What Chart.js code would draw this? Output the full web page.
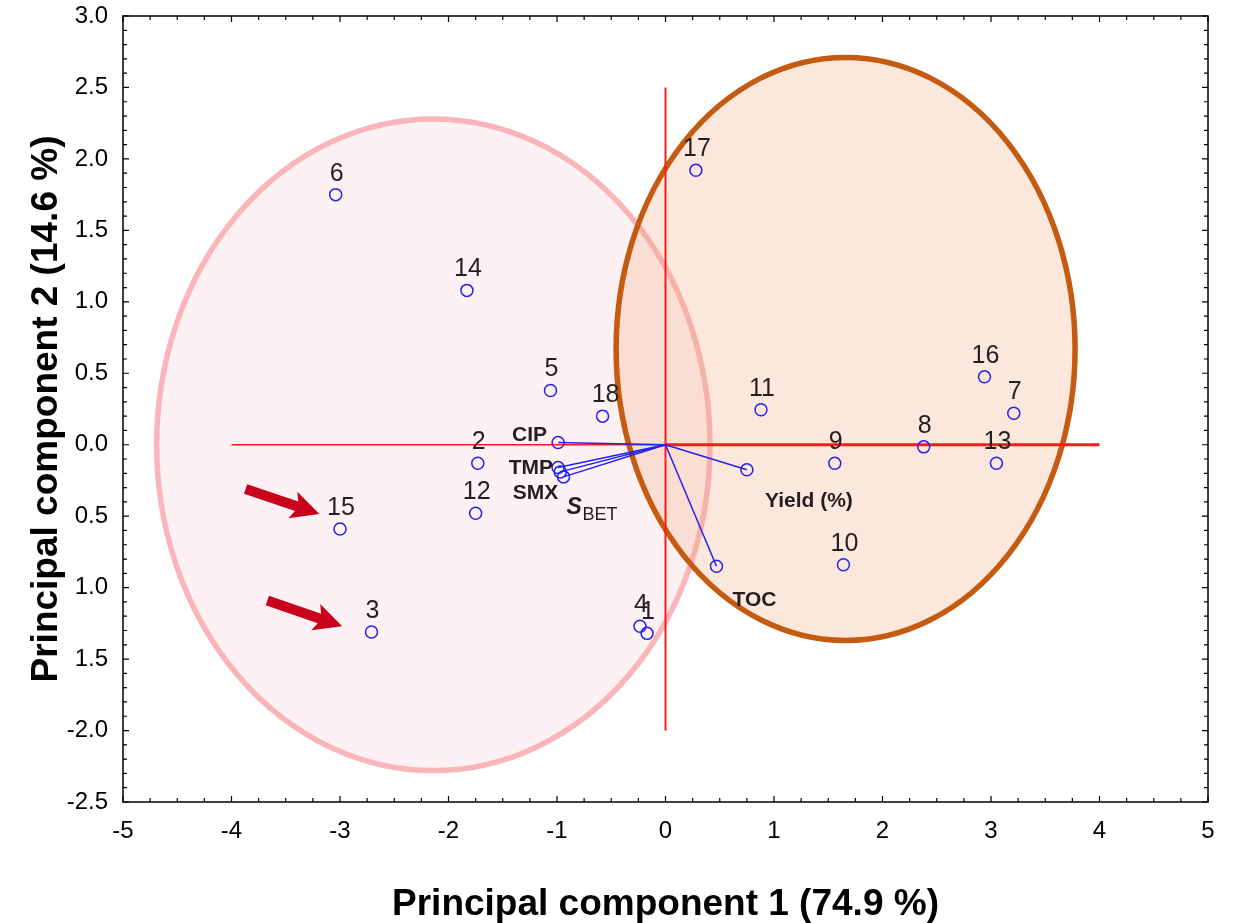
<!DOCTYPE html>
<html>
<head>
<meta charset="utf-8">
<script src="https://cdn.jsdelivr.net/npm/chart.js@4.4.1/dist/chart.umd.min.js"></script>
<style>
  html, body { margin: 0; padding: 0; background: #fff; }
</style>
</head>
<body>
<canvas id="pcaChart" width="1235" height="923"></canvas>
<script>
// sample scores (sample number -> PC1, PC2)
const sampleLabels = ["1", "2", "3", "4", "5", "6", "7", "8", "9", "10", "11", "12", "13", "14", "15", "16", "17", "18"];
const samplePC1 = [-0.17, -1.73, -2.71, -0.235, -1.06, -3.04, 3.21, 2.38, 1.56, 1.64, 0.88, -1.75, 3.05, -1.83, -3.0, 2.94, 0.28, -0.58];
const samplePC2 = [-1.32, -0.13, -1.31, -1.27, 0.38, 1.75, 0.22, -0.015, -0.13, -0.84, 0.245, -0.48, -0.13, 1.08, -0.59, 0.475, 1.92, 0.20];

// variable loadings
const varNames = ["CIP", "TMP", "SMX", "SBET", "Yield (%)", "TOC"];
const varPC1 = [-0.99, -0.99, -0.97, -0.94, 0.75, 0.47];
const varPC2 = [0.015, -0.16, -0.19, -0.225, -0.175, -0.85];

// group ellipses: centre and semi axes, in PC units
const groupCenterX = [-2.14, 1.66];
const groupCenterY = [0.0, 0.67];
const groupRadiusX = [2.55, 2.115];
const groupRadiusY = [2.28, 2.04];

// axis ticks
const xTickValues = [-5, -4, -3, -2, -1, 0, 1, 2, 3, 4, 5];
const xTickLabels = ["-5", "-4", "-3", "-2", "-1", "0", "1", "2", "3", "4", "5"];
const yTickValues = [3, 2.5, 2, 1.5, 1, 0.5, 0, -0.5, -1, -1.5, -2, -2.5];
const yTickLabels = ["3.0", "2.5", "2.0", "1.5", "1.0", "0.5", "0.0", "0.5", "1.0", "1.5", "-2.0", "-2.5"];

// red reference axes through the origin
const refLeft = [-4, 0];
const refRight = [0, 4];
const refVertical = [2.5, -2.0];

const FONT = "'Liberation Sans', Arial, sans-serif";
const BLUE = "rgb(35,35,235)";
const TEXT = "#231f20";

const scorePoints = samplePC1.map((v, i) => ({ x: v, y: samplePC2[i] }));

const loadingSets = varNames.map((name, i) => ({
    type: "line",
    label: name,
    data: [{ x: 0, y: 0 }, { x: varPC1[i], y: varPC2[i] }],
    borderColor: BLUE,
    borderWidth: 1.5,
    pointRadius: [0, 6],
    pointBorderWidth: 1.5,
    pointBorderColor: BLUE,
    pointBackgroundColor: "rgba(0,0,0,0)",
    order: 2
}));

const ellipsePlugin = {
    id: "groupEllipses",
    beforeDatasetsDraw(chart) {
        const { ctx, scales: { x, y } } = chart;
        const fills = ["rgba(248,190,200,0.22)", "rgba(240,170,130,0.28)"];
        const strokes = ["#f9b5ba", "#c55a11"];
        ctx.save();
        groupCenterX.forEach((cxv, i) => {
            const cx = x.getPixelForValue(cxv);
            const cy = y.getPixelForValue(groupCenterY[i]);
            const rx = Math.abs(x.getPixelForValue(cxv + groupRadiusX[i]) - cx);
            const ry = Math.abs(y.getPixelForValue(groupCenterY[i] + groupRadiusY[i]) - cy);
            ctx.beginPath();
            ctx.ellipse(cx, cy, rx, ry, 0, 0, Math.PI * 2);
            ctx.fillStyle = fills[i];
            ctx.fill();
            ctx.lineWidth = 5.5;
            ctx.strokeStyle = strokes[i];
            ctx.stroke();
        });
        ctx.restore();
    }
};

// text labels, arrows, frame with inward ticks
const annotatePlugin = {
    id: "annotate",
    afterDatasetsDraw(chart) {
        const { ctx, scales: { x, y } } = chart;
        ctx.save();

        // arrows pointing at samples 15 and 3
        const arrows = [[-3.87, -0.31, -3.19, -0.485], [-3.67, -1.09, -2.98, -1.27]];
        ctx.fillStyle = "#c8001c";
        arrows.forEach(a => {
            const x0 = x.getPixelForValue(a[0]), y0 = y.getPixelForValue(a[1]);
            const x1 = x.getPixelForValue(a[2]), y1 = y.getPixelForValue(a[3]);
            const ang = Math.atan2(y1 - y0, x1 - x0);
            const len = Math.hypot(x1 - x0, y1 - y0);
            ctx.save();
            ctx.translate(x0, y0);
            ctx.rotate(ang);
            ctx.beginPath();
            ctx.moveTo(0, -5);
            ctx.lineTo(len - 24, -5);
            ctx.lineTo(len - 28, -14);
            ctx.lineTo(len, 0);
            ctx.lineTo(len - 28, 14);
            ctx.lineTo(len - 24, 5);
            ctx.lineTo(0, 5);
            ctx.closePath();
            ctx.fill();
            ctx.restore();
        });

        // sample numbers
        ctx.fillStyle = TEXT;
        ctx.font = "25px " + FONT;
        ctx.textAlign = "center";
        ctx.textBaseline = "middle";
        sampleLabels.forEach((t, i) => {
            const px = x.getPixelForValue(samplePC1[i]);
            const py = y.getPixelForValue(samplePC2[i]);
            let dx = 1;
            if (t === "18") dx = 3;
            ctx.fillText(t, px + dx, py - 21);
        });

        // variable names
        const offs = {
            "CIP": [-11, -7, "right"],
            "TMP": [-5, 1, "right"],
            "SMX": [-2, 21, "right"],
            "Yield (%)": [62, 31, "center"],
            "TOC": [38, 34, "center"]
        };
        ctx.font = "bold 21px " + FONT;
        varNames.forEach((name, i) => {
            const px = x.getPixelForValue(varPC1[i]);
            const py = y.getPixelForValue(varPC2[i]);
            if (name === "SBET") {
                ctx.textAlign = "left";
                ctx.font = "italic bold 23px " + FONT;
                ctx.fillText("S", px + 3, py + 31);
                ctx.font = "18px " + FONT;
                ctx.fillText("BET", px + 19, py + 38);
                ctx.font = "bold 21px " + FONT;
                return;
            }
            const o = offs[name];
            ctx.textAlign = o[2];
            ctx.fillText(name, px + o[0], py + o[1]);
        });

        // frame and inner ticks on all four sides
        const a = chart.chartArea;
        ctx.strokeStyle = "#000";
        ctx.lineWidth = 1.5;
        ctx.strokeRect(a.left, a.top, a.right - a.left, a.bottom - a.top);
        ctx.lineWidth = 1.2;
        ctx.beginPath();
        for (let k = 0; k <= 40; k++) {
            const v = -5 + k * 0.25;
            const px = x.getPixelForValue(v);
            const len = k % 4 === 0 ? 6 : 4;
            ctx.moveTo(px, a.bottom); ctx.lineTo(px, a.bottom - len);
            ctx.moveTo(px, a.top); ctx.lineTo(px, a.top + len);
        }
        for (let k = 0; k <= 55; k++) {
            const v = -2.5 + k * 0.1;
            const py = y.getPixelForValue(v);
            const len = k % 5 === 0 ? 6 : 4;
            ctx.moveTo(a.left, py); ctx.lineTo(a.left + len, py);
            ctx.moveTo(a.right, py); ctx.lineTo(a.right - len, py);
        }
        ctx.stroke();
        ctx.restore();
    }
};

new Chart(document.getElementById("pcaChart"), {
    type: "scatter",
    data: {
        datasets: [
            {
                label: "Samples",
                data: scorePoints,
                pointRadius: 6,
                pointBorderWidth: 1.5,
                pointBorderColor: BLUE,
                pointBackgroundColor: "rgba(0,0,0,0)",
                order: 1
            },
            ...loadingSets,
            {
                type: "line",
                label: "axisLeft",
                data: refLeft.map(v => ({ x: v, y: 0 })),
                borderColor: "#ff1a1a",
                borderWidth: 1.5,
                pointRadius: 0,
                order: 5
            },
            {
                type: "line",
                label: "axisRight",
                data: refRight.map(v => ({ x: v, y: 0 })),
                borderColor: "#ff1a1a",
                borderWidth: 3,
                pointRadius: 0,
                order: 5
            },
            {
                type: "line",
                label: "axisVertical",
                data: refVertical.map(v => ({ x: 0, y: v })),
                borderColor: "#ff1a1a",
                borderWidth: 2,
                pointRadius: 0,
                order: 5
            }
        ]
    },
    options: {
        responsive: false,
        animation: false,
        layout: { padding: { top: 16, right: 27, left: 0, bottom: 0 } },
        plugins: {
            legend: { display: false },
            tooltip: { enabled: false }
        },
        scales: {
            x: {
                type: "linear",
                min: -5,
                max: 5,
                afterBuildTicks: s => { s.ticks = xTickValues.map(v => ({ value: v })); },
                afterFit: s => { s.height = 121; },
                grid: { display: false, drawTicks: false },
                border: { display: false },
                ticks: {
                    color: "#000",
                    padding: 15,
                    font: { family: FONT, size: 24 },
                    callback: v => xTickLabels[xTickValues.indexOf(v)]
                },
                title: {
                    display: true,
                    text: "Principal component 1 (74.9 %)",
                    color: "#000",
                    padding: { top: 0, bottom: 0 },
                    font: { family: FONT, size: 37, weight: "bold", lineHeight: 1.0 }
                }
            },
            y: {
                type: "linear",
                min: -2.5,
                max: 3,
                afterBuildTicks: s => { s.ticks = yTickValues.map(v => ({ value: v })); },
                afterFit: s => { s.width = 123; s.paddingTop = 0; s.paddingBottom = 0; },
                grid: { display: false, drawTicks: false },
                border: { display: false },
                ticks: {
                    color: "#000",
                    padding: 15,
                    font: { family: FONT, size: 24 },
                    callback: v => yTickLabels[yTickValues.indexOf(v)]
                },
                title: {
                    display: true,
                    text: "Principal component 2 (14.6 %)",
                    color: "#000",
                    padding: { top: 25, bottom: 0 },
                    font: { family: FONT, size: 37, weight: "bold", lineHeight: 1.2 }
                }
            }
        }
    },
    plugins: [ellipsePlugin, annotatePlugin]
});
</script>
</body>
</html>
